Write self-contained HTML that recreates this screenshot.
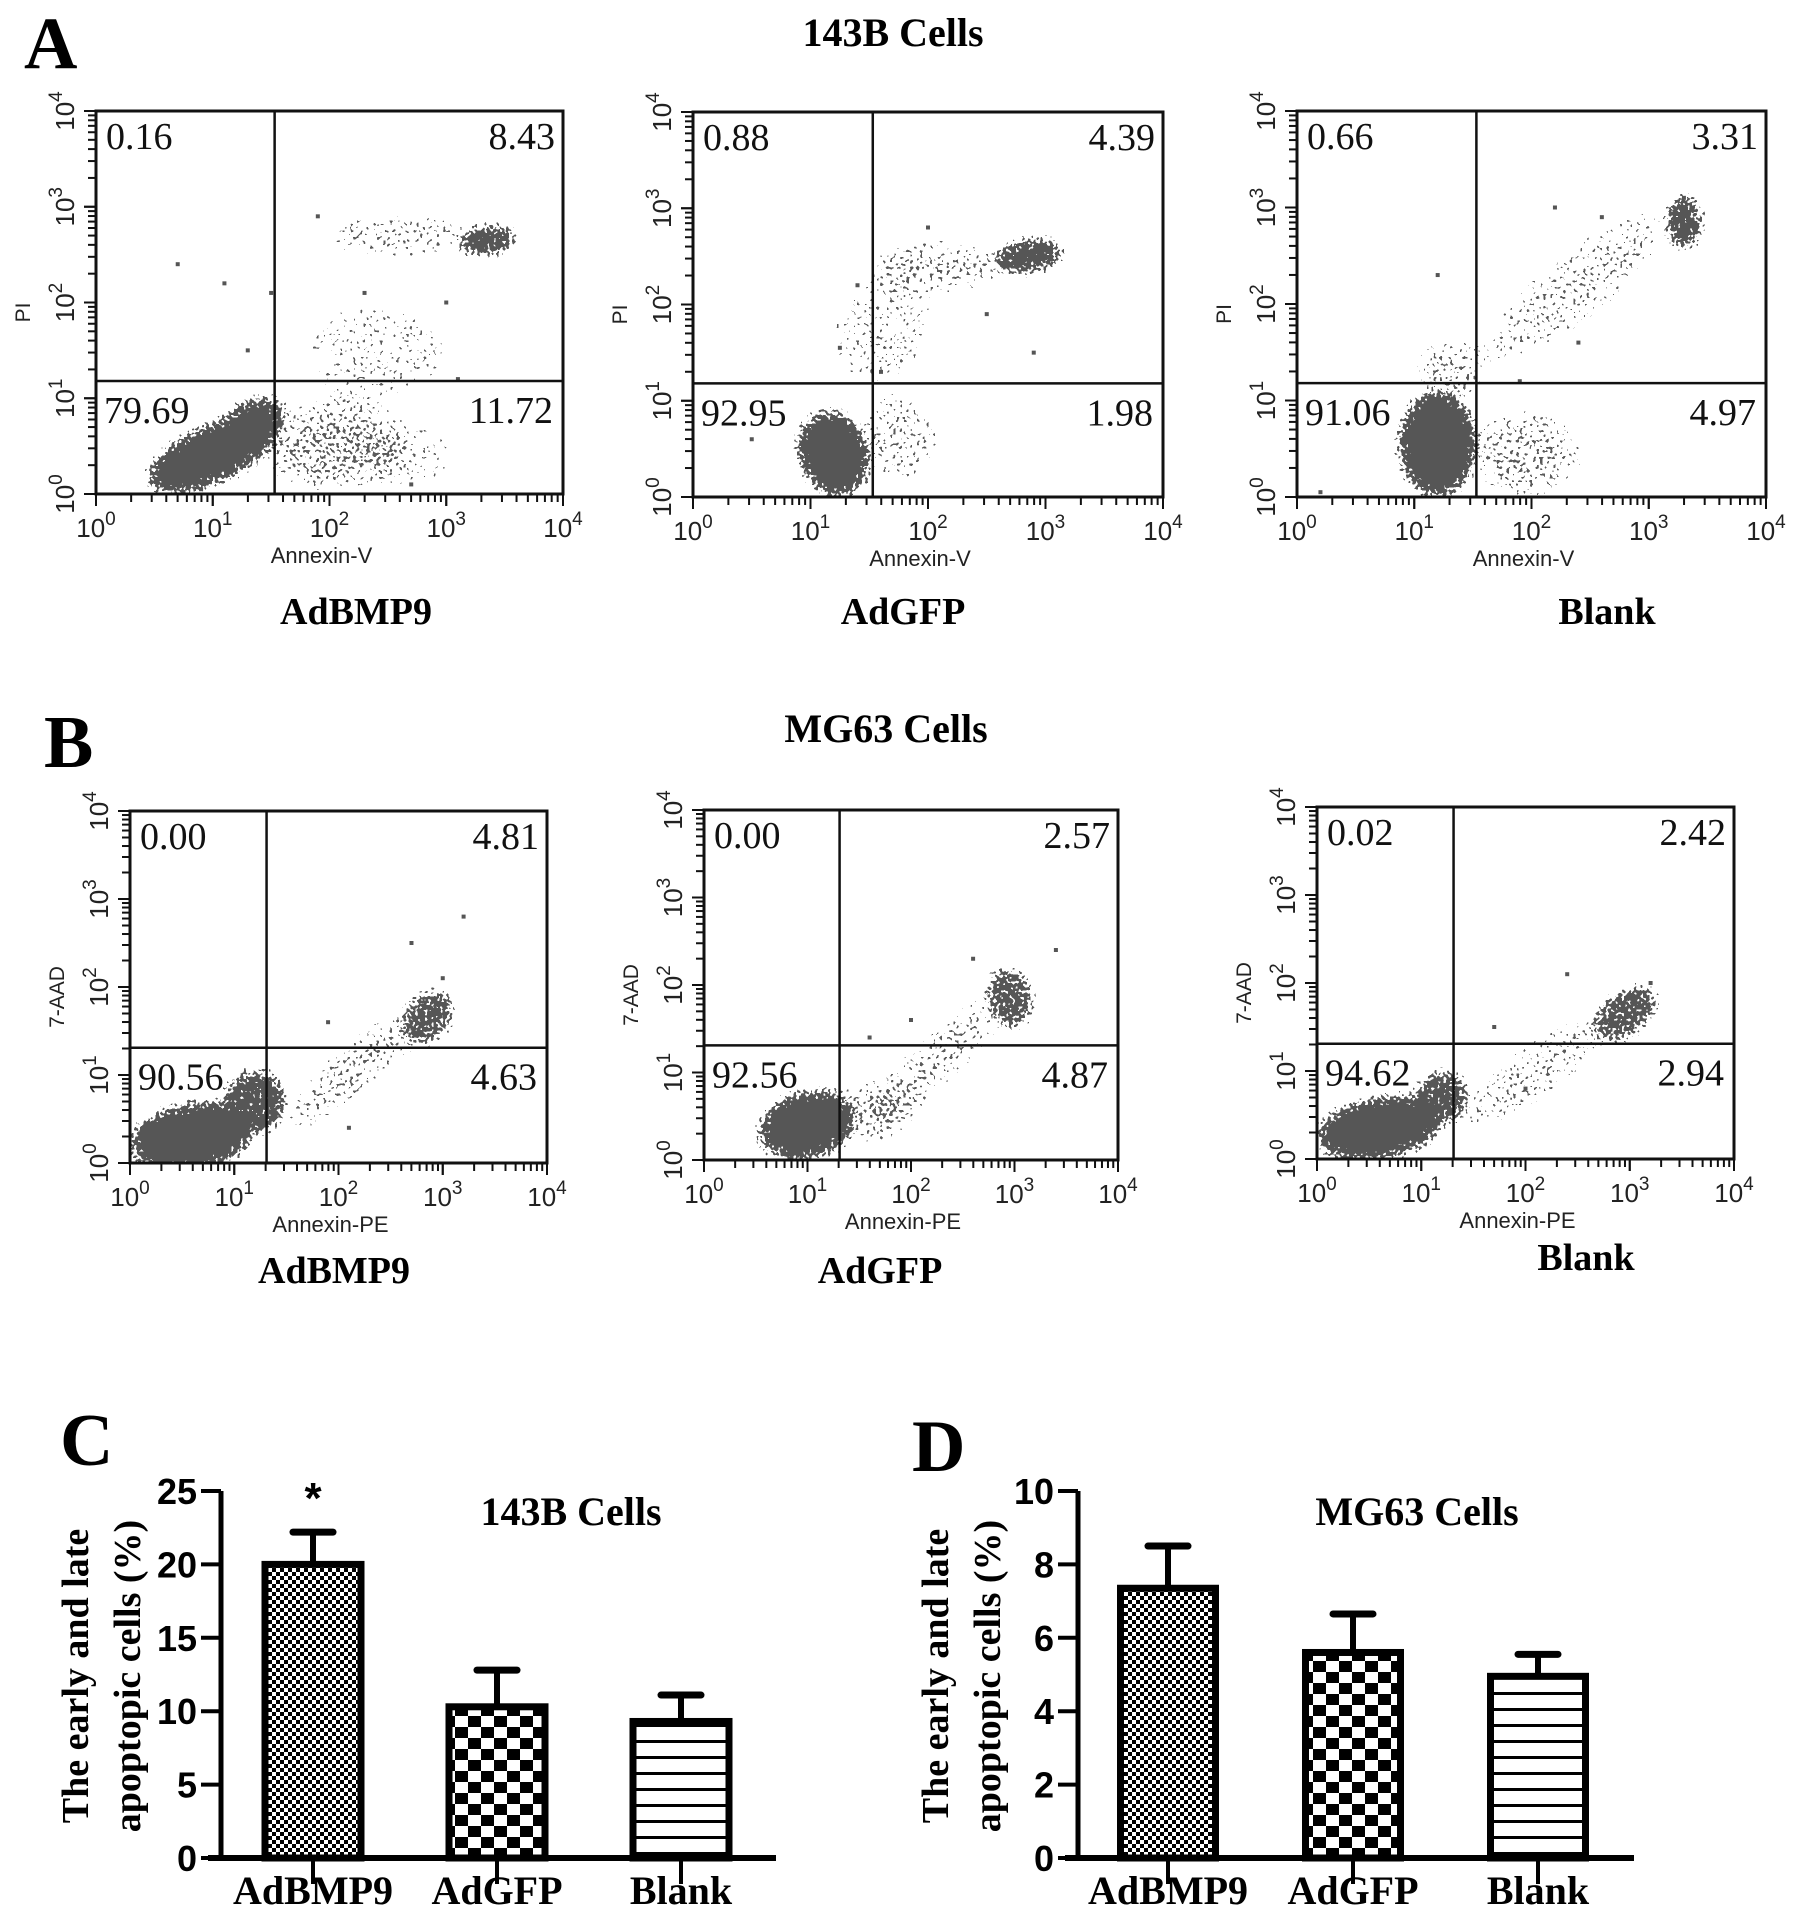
<!DOCTYPE html>
<html><head><meta charset="utf-8"><style>
html,body{margin:0;padding:0;background:#fff;}
svg{display:block;}
</style></head><body>
<svg id="fig" xmlns="http://www.w3.org/2000/svg" width="1795" height="1924" viewBox="0 0 1795 1924">
<defs>
<filter id="speckleCore" filterUnits="userSpaceOnUse" x="0" y="0" width="1795" height="1924">
  <feGaussianBlur in="SourceGraphic" stdDeviation="6" result="dens"/>
  <feTurbulence type="fractalNoise" baseFrequency="0.32" numOctaves="1" seed="3" result="turb"/>
  <feColorMatrix in="turb" type="matrix" values="0 0 0 0 0  0 0 0 0 0  0 0 0 0 0  2.4 0 0 0 -0.7" result="noise"/>
  <feComposite in="dens" in2="noise" operator="arithmetic" k1="0" k2="1.3" k3="1" k4="-0.75" result="sum"/>
  <feComponentTransfer in="sum" result="mask"><feFuncA type="discrete" tableValues="0 1"/></feComponentTransfer>
  <feFlood flood-color="#575757" result="col"/>
  <feComposite in="col" in2="mask" operator="in"/>
</filter>
<filter id="speckleHalo" filterUnits="userSpaceOnUse" x="0" y="0" width="1795" height="1924">
  <feGaussianBlur in="SourceGraphic" stdDeviation="14" result="dens"/>
  <feTurbulence type="fractalNoise" baseFrequency="0.3" numOctaves="1" seed="7" result="turb"/>
  <feColorMatrix in="turb" type="matrix" values="0 0 0 0 0  0 0 0 0 0  0 0 0 0 0  2.4 0 0 0 -0.7" result="noise"/>
  <feComposite in="dens" in2="noise" operator="arithmetic" k1="0" k2="1.3" k3="1" k4="-0.75" result="sum"/>
  <feComponentTransfer in="sum" result="mask"><feFuncA type="discrete" tableValues="0 1"/></feComponentTransfer>
  <feFlood flood-color="#5a5a5a" result="col"/>
  <feComposite in="col" in2="mask" operator="in"/>
</filter>
<pattern id="fineCheck" width="8" height="8" patternUnits="userSpaceOnUse"><rect width="8" height="8" fill="#fff"/><rect width="4" height="4" fill="#000"/><rect x="4" y="4" width="4" height="4" fill="#000"/></pattern>
<pattern id="coarseCheck" width="26" height="22" patternUnits="userSpaceOnUse"><rect width="26" height="22" fill="#fff"/><rect width="13" height="11" fill="#000"/><rect x="13" y="11" width="13" height="11" fill="#000"/></pattern>
<pattern id="hLines" width="16" height="16" patternUnits="userSpaceOnUse"><rect width="16" height="16" fill="#fff"/><rect y="12" width="16" height="3" fill="#000"/></pattern>
</defs>
<g font-family="'Liberation Serif', serif" font-weight="bold" fill="#000">
<text x="24" y="68" font-size="74">A</text>
<text x="893" y="46" font-size="40" text-anchor="middle">143B Cells</text>
<text x="44" y="767" font-size="74">B</text>
<text x="886" y="742" font-size="40" text-anchor="middle">MG63 Cells</text>
<text x="60" y="1465" font-size="74">C</text>
<text x="912" y="1471" font-size="74">D</text>
</g>
<g id="content"></g>
</svg>
<script>
// ---------- DATA ----------
const barCats = ["AdBMP9", "AdGFP", "Blank"];
const c143Means = [20, 10.3, 9.3];
const c143Err = [2.2, 2.5, 1.8];
const c143Ticks = [0, 5, 10, 15, 20, 25];
const mg63Means = [7.35, 5.6, 4.95];
const mg63Err = [1.15, 1.05, 0.6];
const mg63Ticks = [0, 2, 4, 6, 8, 10];
const flowTickExp = [0, 1, 2, 3, 4];

// quadrant percentages [UL, UR, LL, LR]
const quadA1 = ["0.16", "8.43", "79.69", "11.72"];
const quadA2 = ["0.88", "4.39", "92.95", "1.98"];
const quadA3 = ["0.66", "3.31", "91.06", "4.97"];
const quadB1 = ["0.00", "4.81", "90.56", "4.63"];
const quadB2 = ["0.00", "2.57", "92.56", "4.87"];
const quadB3 = ["0.02", "2.42", "94.62", "2.94"];
// gate positions (log10 units) [x, y]
const gateA = [1.53, 1.18];
const gateB = [1.31, 1.31];
// density regions [cx, cy, rx, ry, angle, density] in log10 units (density >= 0.8 => dense core)
const cloudA1 = [[1.0,0.42,0.6,0.3,25,1.0],[1.35,0.72,0.3,0.26,30,0.95],[2.0,0.5,0.6,0.45,0,0.45],[2.7,0.4,0.4,0.35,0,0.3],[3.35,2.65,0.25,0.15,5,0.95],[2.6,2.7,0.7,0.2,0,0.42],[2.4,1.5,0.65,0.55,0,0.28]];
const cloudA2 = [[1.2,0.45,0.3,0.45,20,1.0],[1.75,0.6,0.35,0.45,0,0.35],[2.85,2.5,0.3,0.17,10,0.95],[2.1,2.4,0.6,0.25,0,0.42],[1.6,1.7,0.5,0.55,30,0.28]];
const cloudA3 = [[1.2,0.55,0.33,0.55,0,1.0],[1.95,0.45,0.5,0.45,0,0.4],[3.3,2.85,0.15,0.28,0,0.9],[2.4,2.2,1.0,0.38,38,0.32],[1.3,1.3,0.3,0.35,0,0.4]];
const cloudB1 = [[0.6,0.3,0.6,0.38,10,1.0],[1.2,0.7,0.3,0.35,20,0.9],[2.2,1.1,0.95,0.28,40,0.4],[2.85,1.65,0.3,0.25,45,0.8]];
const cloudB2 = [[1.0,0.4,0.48,0.38,15,1.0],[1.6,0.55,0.4,0.35,0,0.38],[2.3,1.2,1.0,0.28,42,0.38],[2.95,1.85,0.22,0.35,10,0.8]];
const cloudB3 = [[0.6,0.35,0.6,0.35,10,1.0],[1.2,0.7,0.25,0.3,0,0.85],[2.1,1.0,0.9,0.3,35,0.38],[2.95,1.65,0.35,0.25,35,0.8]];
// isolated events [logX, logY]
const dotsA1 = [[0.7,2.4],[1.3,1.5],[1.5,2.1],[1.9,2.9],[2.3,2.1],[3.1,1.2],[0.9,0.05],[2.7,0.1],[3.0,2.0],[1.1,2.2]];
const dotsA2 = [[1.6,1.3],[1.4,2.2],[2.5,1.9],[2.9,1.5],[0.5,0.6],[2.0,2.8],[1.25,1.55]];
const dotsA3 = [[0.2,0.05],[1.2,2.3],[2.2,3.0],[2.6,2.9],[1.9,1.2],[2.4,1.6],[3.3,3.1]];
const dotsB1 = [[3.2,2.8],[2.7,2.5],[1.9,1.6],[2.1,0.4],[3.0,2.1]];
const dotsB2 = [[3.4,2.4],[2.6,2.3],[1.6,1.4],[2.0,1.6]];
const dotsB3 = [[2.4,2.1],[1.7,1.5],[3.2,2.0],[2.0,0.8]];

// ---------- LAYOUT ----------
const NS = "http://www.w3.org/2000/svg";
const root = document.getElementById("content");
function mk(tag, attrs, parent) {
  const e = document.createElementNS(NS, tag);
  for (const k in attrs) e.setAttribute(k, attrs[k]);
  (parent || root).appendChild(e);
  return e;
}
let clipId = 0;

function drawFlow(box, gate, cloud, dots, quad, xTitle, yTitle, sub, subPos, nm) {
  const g = mk("g", {});
  
  
  const sx = v => box.x0 + v / 4 * (box.x1 - box.x0);
  const sy = v => box.y1 - v / 4 * (box.y1 - box.y0);
  const pxX = (box.x1 - box.x0) / 4, pxY = (box.y1 - box.y0) / 4;
  const cid = "clip" + (clipId++);
  const cp = mk("clipPath", {id: cid}, g);
  mk("rect", {x: box.x0, y: box.y0, width: box.x1 - box.x0, height: box.y1 - box.y0}, cp);
  const cg = mk("g", {"clip-path": "url(#" + cid + ")"}, g);
  const haloG = mk("g", {filter: "url(#speckleHalo)"}, cg);
  const coreG = mk("g", {filter: "url(#speckleCore)"}, cg);
  cloud.forEach(c => {
    const e = mk("ellipse", {cx: sx(c[0]), cy: sy(c[1]), rx: c[2] * pxX, ry: c[3] * pxY, fill: "#000", "fill-opacity": c[5], transform: "rotate(" + (-c[4]) + " " + sx(c[0]) + " " + sy(c[1]) + ")"}, c[5] >= 0.8 ? coreG : haloG);
    
    
  });
  dots.forEach(d => {
    const r = mk("rect", {x: sx(d[0]) - 2, y: sy(d[1]) - 2, width: 4, height: 4, fill: "#555"}, cg);
    
    
  });
  const frame = mk("rect", {x: box.x0, y: box.y0, width: box.x1 - box.x0, height: box.y1 - box.y0, fill: "none", stroke: "#111", "stroke-width": 3}, g);
  
  
  const gv = mk("line", {x1: sx(gate[0]), x2: sx(gate[0]), y1: box.y0, y2: box.y1, stroke: "#111", "stroke-width": 2.5}, g);
  
  
  const gh = mk("line", {x1: box.x0, x2: box.x1, y1: sy(gate[1]), y2: sy(gate[1]), stroke: "#111", "stroke-width": 2.5}, g);
  
  
  for (let d = 0; d < 4; d++) for (let k = 1; k <= 10; k++) {
    const v = d + Math.log10(k);
    const L = (k === 1 || k === 10) ? 12 : 8;
    mk("line", {x1: sx(v), x2: sx(v), y1: box.y1, y2: box.y1 + L, stroke: "#111", "stroke-width": 2}, g);
    mk("line", {x1: box.x0, x2: box.x0 - L, y1: sy(v), y2: sy(v), stroke: "#111", "stroke-width": 2}, g);
  }
  flowTickExp.forEach(p => {
    const t = mk("text", {x: sx(p), y: box.y1 + 43, "font-family": "'Liberation Sans', sans-serif", "font-size": 26, "text-anchor": "middle", fill: "#222"}, g);
    
    
    t.textContent = "10";
    const s = mk("tspan", {dy: -12, "font-size": 19}, t);
    s.textContent = String(p);
    const ty = mk("text", {x: 0, y: 0, "font-family": "'Liberation Sans', sans-serif", "font-size": 26, "text-anchor": "middle", fill: "#222", transform: "translate(" + (box.x0 - 22) + "," + sy(p) + ") rotate(-90)"}, g);
    
    
    ty.textContent = "10";
    const s2 = mk("tspan", {dy: -12, "font-size": 19}, ty);
    s2.textContent = String(p);
  });
  const xt = mk("text", {x: (box.x0 + box.x1) / 2 - 8, y: box.y1 + 69, "font-family": "'Liberation Sans', sans-serif", "font-size": 22, "text-anchor": "middle", fill: "#222"}, g);
  
  
  xt.textContent = xTitle;
  const yt = mk("text", {x: 0, y: 0, "font-family": "'Liberation Sans', sans-serif", "font-size": 21, "text-anchor": "middle", fill: "#222", transform: "translate(" + (box.x0 - 66) + "," + ((box.y0 + box.y1) / 2 + 10) + ") rotate(-90)"}, g);
  
  
  yt.textContent = yTitle;
  const qf = {"font-family": "'Liberation Serif', serif", "font-size": 38, fill: "#111"};
  const qpos = [[box.x0 + 10, box.y0 + 38, "start"], [box.x1 - 8, box.y0 + 38, "end"], [box.x0 + 8, sy(gate[1]) + 42, "start"], [box.x1 - 10, sy(gate[1]) + 42, "end"]];
  const qn = ['upper-left-percent', 'upper-right-percent', 'lower-left-percent', 'lower-right-percent'];
  quad.forEach((q, i) => {
    const a = Object.assign({x: qpos[i][0], y: qpos[i][1], "text-anchor": qpos[i][2]}, qf);
    const t = mk("text", a, g);
    
    
    t.textContent = q;
  });
  const st = mk("text", {x: subPos[0], y: subPos[1], "font-family": "'Liberation Serif', serif", "font-weight": "bold", "font-size": 38, "text-anchor": "middle", fill: "#000"}, g);
  
  
  st.textContent = sub;
}

drawFlow({x0: 96, x1: 563, y0: 111, y1: 494}, gateA, cloudA1, dotsA1, quadA1, "Annexin-V", "PI", "AdBMP9", [356, 624], "a-adbmp9");
drawFlow({x0: 693, x1: 1163, y0: 112, y1: 497}, gateA, cloudA2, dotsA2, quadA2, "Annexin-V", "PI", "AdGFP", [903, 624], "a-adgfp");
drawFlow({x0: 1297, x1: 1766, y0: 111, y1: 497}, gateA, cloudA3, dotsA3, quadA3, "Annexin-V", "PI", "Blank", [1607, 624], "a-blank");
drawFlow({x0: 130, x1: 547, y0: 811, y1: 1163}, gateB, cloudB1, dotsB1, quadB1, "Annexin-PE", "7-AAD", "AdBMP9", [334, 1283], "b-adbmp9");
drawFlow({x0: 704, x1: 1118, y0: 810, y1: 1160}, gateB, cloudB2, dotsB2, quadB2, "Annexin-PE", "7-AAD", "AdGFP", [880, 1283], "b-adgfp");
drawFlow({x0: 1317, x1: 1734, y0: 807, y1: 1159}, gateB, cloudB3, dotsB3, quadB3, "Annexin-PE", "7-AAD", "Blank", [1586, 1270], "b-blank");

function drawBar(ax, means, errs, ticks, title, titleX, star, nm) {
  const g = mk("g", {});
  
  
  const yMax = ticks[ticks.length - 1];
  const y = v => ax.y0 - v / yMax * (ax.y0 - ax.yTop);
  const xc = i => ax.x + ax.first + i * ax.step;
  const pats = ["url(#fineCheck)", "url(#coarseCheck)", "url(#hLines)"];
  means.forEach((m, i) => {
    const top = y(m + errs[i]);
    const el = mk("line", {x1: xc(i), x2: xc(i), y1: y(m), y2: top, stroke: "#000", "stroke-width": 6}, g);
    
    
    const cap = mk("line", {x1: xc(i) - 20, x2: xc(i) + 20, y1: top, y2: top, stroke: "#000", "stroke-width": 7, "stroke-linecap": "round"}, g);
    
    
    const b = mk("rect", {x: xc(i) - ax.w / 2, y: y(m), width: ax.w, height: ax.y0 - y(m), fill: pats[i], stroke: "#000", "stroke-width": 7}, g);
    
    
    const xtk = mk("line", {x1: xc(i), x2: xc(i), y1: ax.y0, y2: ax.y0 + 26, stroke: "#000", "stroke-width": 4}, g);
    
    
    const cl = mk("text", {x: xc(i), y: ax.y0 + 46, "font-family": "'Liberation Serif', serif", "font-weight": "bold", "font-size": 40, "text-anchor": "middle", fill: "#000"}, g);
    
    
    cl.textContent = barCats[i];
  });
  const yl = mk("line", {x1: ax.x, x2: ax.x, y1: ax.yTop, y2: ax.y0, stroke: "#000", "stroke-width": 5}, g);
  
  
  const xl = mk("line", {x1: ax.x - 13, x2: ax.xEnd, y1: ax.y0, y2: ax.y0, stroke: "#000", "stroke-width": 6}, g);
  
  
  ticks.forEach(t => {
    const tk = mk("line", {x1: ax.x - 20, x2: ax.x, y1: y(t), y2: y(t), stroke: "#000", "stroke-width": 4}, g);
    
    
    const tl = mk("text", {x: ax.x - 24, y: y(t) + 13, "font-family": "'Liberation Sans', sans-serif", "font-weight": "bold", "font-size": 36, "text-anchor": "end", fill: "#000"}, g);
    
    
    tl.textContent = String(t);
  });
  const tt = mk("text", {x: titleX, y: ax.yTop + 34, "font-family": "'Liberation Serif', serif", "font-weight": "bold", "font-size": 40, "text-anchor": "middle", fill: "#000"}, g);
  
  
  tt.textContent = title;
  const lines = ["The early and late", "apoptopic cells (%)"];
  lines.forEach((ln, k) => {
    const t = mk("text", {x: 0, y: 0, "font-family": "'Liberation Serif', serif", "font-weight": "bold", "font-size": 38, "text-anchor": "middle", fill: "#000", transform: "translate(" + (ax.labX + k * 52) + "," + ax.labY + ") rotate(-90)"}, g);
    
    
    t.textContent = ln;
  });
  if (star) {
    const s = mk("text", {x: xc(0), y: ax.yTop + 22, "font-family": "'Liberation Sans', sans-serif", "font-weight": "bold", "font-size": 44, "text-anchor": "middle", fill: "#000"}, g);
    
    
    s.textContent = "*";
  }
}
drawBar({x: 221, y0: 1858, yTop: 1491, xEnd: 776, first: 92, step: 184, w: 96, labX: 88, labY: 1676}, c143Means, c143Err, c143Ticks, "143B Cells", 571, true, "c-143b");
drawBar({x: 1078, y0: 1858, yTop: 1491, xEnd: 1634, first: 90, step: 185, w: 95, labX: 948, labY: 1676}, mg63Means, mg63Err, mg63Ticks, "MG63 Cells", 1417, false, "d-mg63");
</script>
</body></html>
